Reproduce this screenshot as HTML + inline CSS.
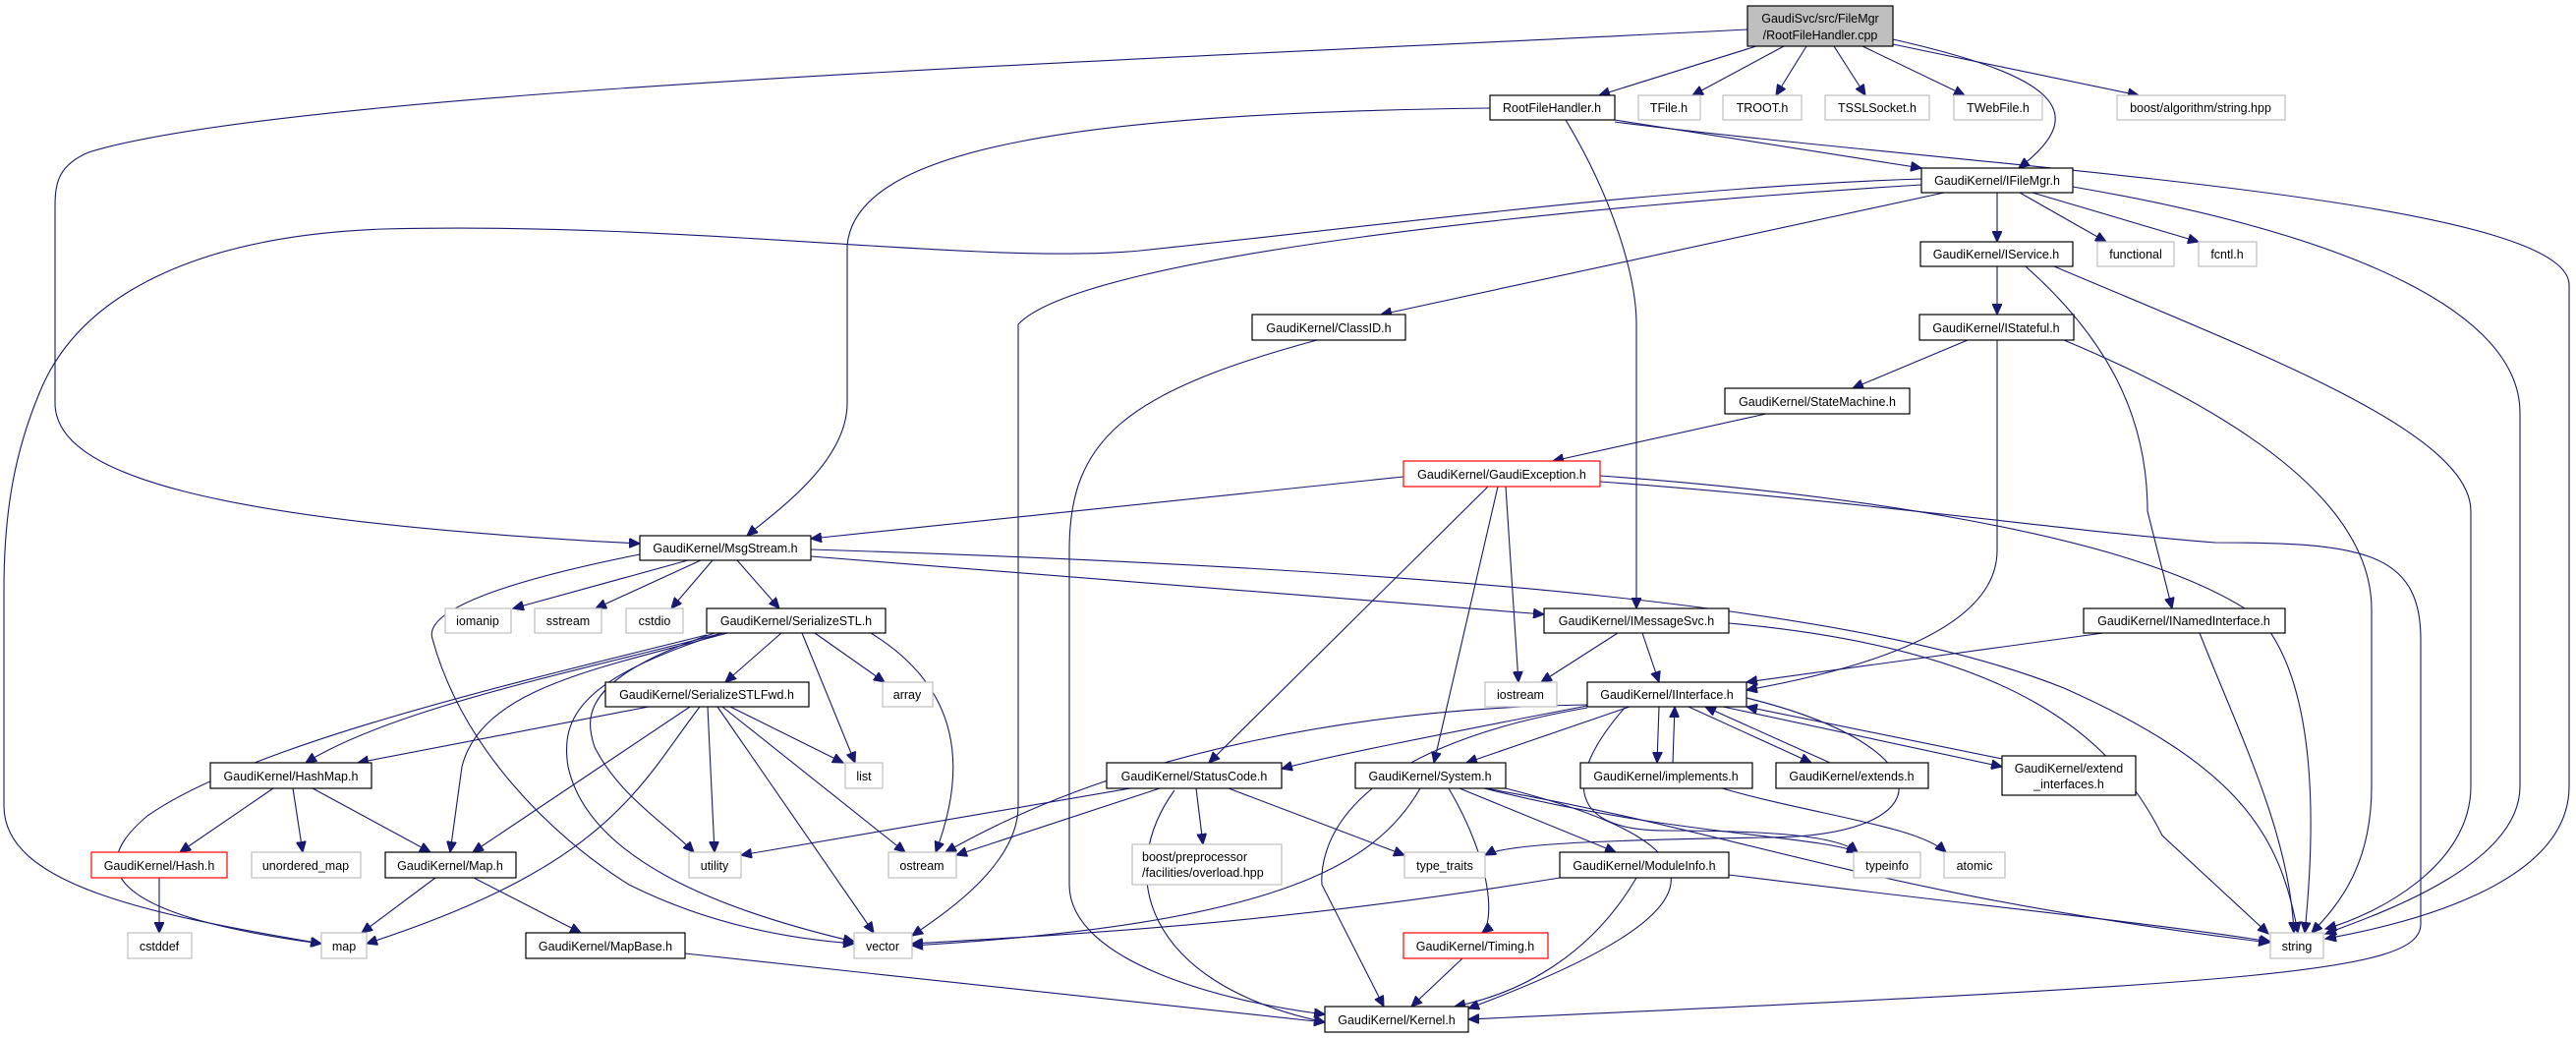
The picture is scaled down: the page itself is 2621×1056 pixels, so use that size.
<!DOCTYPE html>
<html><head><meta charset="utf-8"><style>
html,body{margin:0;padding:0;background:#fff}
svg{display:block}
text{font-family:"Liberation Sans",sans-serif;font-size:12.5px;fill:#000}
path{fill:none;stroke:#191970;stroke-width:1.1}
.b{fill:#fff;stroke:#000;stroke-width:1.2}
.g{fill:#fff;stroke:#bfbfbf;stroke-width:1.2}
.r{fill:#fff;stroke:#ff0000;stroke-width:1.2}
</style></head><body>
<svg width="2621" height="1056" viewBox="0 0 2621 1056" xmlns="http://www.w3.org/2000/svg">
<defs><marker id="a" markerUnits="userSpaceOnUse" markerWidth="12" markerHeight="10" refX="11" refY="5" orient="auto"><path d="M0,0 L11,5 L0,10 Z" style="fill:#191970;stroke:#191970"/></marker></defs>
<g marker-end="url(#a)">
<path d="M1787,47 L1627,97"/><path d="M1815,47 L1722,97"/><path d="M1838,47 L1807,97"/><path d="M1866,47 L1898,97"/><path d="M1895,47 L1999,97"/><path d="M1926,45 L2176,97"/>
<path d="M1926,40 C2080,75 2135,110 2054,171"/>
<path d="M1778,30 C1200,60 300,90 90,155 C60,168 56,185 56,210 L56,410 C56,480 200,530 651,553"/>
<path d="M1516,110 C1100,115 870,150 862,250 L862,410 C862,470 790,520 760,545"/>
<path d="M1593,122 C1640,200 1665,280 1665,330 L1665,619"/>
<path d="M1643,122 L1955,171"/>
<path d="M1643,124 C2000,170 2614,200 2614,290 L2614,800 C2614,900 2450,940 2366,955"/>
<path d="M2109,190 C2400,240 2564,320 2564,420 L2564,800 C2564,880 2420,930 2366,950"/>
<path d="M1955,182 C1700,190 1400,230 1160,255 C1000,270 700,225 390,233 C200,240 80,300 40,400 C15,460 4,520 4,600 L4,820 C4,900 150,930 327,960"/>
<path d="M1955,188 C1600,210 1100,260 1036,330 L1036,820 C1036,880 960,930 928,952"/>
<path d="M1978,196 L1405,320"/><path d="M2032,196 L2032,246"/><path d="M2055,196 L2143,246"/><path d="M2068,196 L2237,246"/>
<path d="M2032,271 L2032,320"/>
<path d="M2061,271 C2150,350 2185,430 2185,520 L2210,619"/>
<path d="M2090,271 C2300,360 2514,440 2514,520 L2514,800 C2514,880 2420,930 2366,945"/>
<path d="M2100,346 C2300,430 2413,520 2413,620 L2413,800 C2413,880 2380,920 2352,949"/>
<path d="M2002,346 L1885,395"/>
<path d="M2032,346 L2032,560 C2032,640 1900,680 1777,702"/>
<path d="M1797,421 L1580,469"/>
<path d="M1340,346 C1140,400 1088,450 1088,560 L1088,900 C1088,980 1250,1020 1348,1032"/>
<path d="M1428,485 L825,548"/>
<path d="M1514,495 L1230,776"/><path d="M1524,495 L1459,776"/><path d="M1532,495 L1545,694"/>
<path d="M1628,484 C1850,500 2180,540 2300,630 C2360,700 2355,850 2345,949"/>
<path d="M1628,490 C1900,510 2100,540 2254,552 C2400,552 2463,560 2463,650 L2463,940 C2463,990 2300,1000 1494,1037"/>
<path d="M700,570 L522,619"/><path d="M713,570 L606,619"/><path d="M725,570 L683,619"/><path d="M750,570 L793,619"/>
<path d="M825,566 L1571,625"/>
<path d="M825,559 C1500,580 1900,620 2100,700 C2280,780 2320,850 2338,949"/>
<path d="M651,564 C520,590 430,620 440,650 C470,760 560,850 640,900 C720,940 800,955 869,960"/>
<path d="M795,644 L738,694"/><path d="M829,644 L900,694"/><path d="M816,644 L870,776"/>
<path d="M886,644 C977,700 985,780 952,867"/>
<path d="M735,644 C600,680 400,720 311,776"/>
<path d="M740,644 C610,680 490,700 470,780 L458,867"/>
<path d="M719,646 C500,700 250,760 150,830 C90,880 100,930 327,960"/>
<path d="M727,644 C590,690 595,730 605,760 C630,810 680,840 706,867"/>
<path d="M735,644 C590,690 570,730 578,780 C600,880 750,930 869,958"/>
<path d="M660,719 L364,776"/><path d="M702,719 L481,867"/>
<path d="M712,719 C650,800 620,880 373,960"/>
<path d="M720,719 L727,867"/><path d="M743,719 L858,776"/><path d="M735,719 L921,867"/><path d="M730,719 L889,949"/>
<path d="M278,802 L183,867"/><path d="M298,802 L308,867"/><path d="M318,802 L438,867"/>
<path d="M162,893 L162,949"/><path d="M443,893 L368,949"/><path d="M482,893 L591,949"/>
<path d="M697,970 L1348,1040"/>
<path d="M1646,644 L1568,694"/><path d="M1671,644 L1688,694"/>
<path d="M1759,634 C2050,660 2150,750 2200,850 L2308,950"/>
<path d="M2140,644 L1777,694"/>
<path d="M2238,644 C2280,750 2330,850 2334,949"/>
<path d="M1658,719 L1492,776"/><path d="M1688,719 L1686,776"/><path d="M1702,776 L1704,719"/>
<path d="M1718,719 L1843,776"/><path d="M1862,776 L1735,719"/>
<path d="M1753,719 L2037,780"/><path d="M2037,772 L1777,719"/>
<path d="M1615,717 C1400,720 1150,760 962,867"/>
<path d="M1615,718 C1450,750 1350,770 1304,782"/>
<path d="M1777,710 C1980,760 1980,850 1800,852 C1600,855 1530,860 1511,870"/>
<path d="M1653,720 C1586,797 1600,845 1694,845 C1800,845 1870,850 1890,867"/>
<path d="M1615,720 C1360,764 1343,865 1345,900 L1408,1024"/>
<path d="M1752,802 C1850,830 1950,840 1980,867"/>
<path d="M1150,802 L754,870"/><path d="M1180,802 L973,870"/><path d="M1217,802 L1224,859"/><path d="M1250,802 L1429,870"/>
<path d="M1195,804 C1136,885 1160,1000 1348,1040"/>
<path d="M1445,802 C1400,880 1300,940 928,962"/>
<path d="M1587,893 C1300,940 1100,950 928,960"/>
<path d="M1474,802 C1520,880 1520,940 1508,949"/>
<path d="M1485,802 L1644,867"/>
<path d="M1510,802 C1700,850 1850,850 1890,867"/>
<path d="M1511,802 C1778,848 1895,908 2309,959"/>
<path d="M1532,802 C1778,865 1745,932 1494,1026"/>
<path d="M1759,890 C2000,920 2200,940 2310,958"/>
<path d="M1665,893 C1620,970 1550,1010 1480,1024"/>
<path d="M1488,975 L1436,1024"/>
</g>
<g>
<rect x="1778" y="6" width="148" height="41" style="fill:#bfbfbf;stroke:#000;stroke-width:1.2"/>
<text x="1852" y="23" text-anchor="middle">GaudiSvc/src/FileMgr</text><text x="1852" y="40" text-anchor="middle">/RootFileHandler.cpp</text>
</g>
<g text-anchor="middle">
<rect class="b" x="1516" y="97" width="127" height="25"/><text x="1579" y="114">RootFileHandler.h</text>
<rect class="g" x="1667" y="97" width="63" height="25"/><text x="1698" y="114">TFile.h</text>
<rect class="g" x="1753" y="97" width="80" height="25"/><text x="1793" y="114">TROOT.h</text>
<rect class="g" x="1857" y="97" width="106" height="25"/><text x="1910" y="114">TSSLSocket.h</text>
<rect class="g" x="1988" y="97" width="90" height="25"/><text x="2033" y="114">TWebFile.h</text>
<rect class="g" x="2154" y="97" width="171" height="25"/><text x="2239" y="114">boost/algorithm/string.hpp</text>
<rect class="b" x="1955" y="171" width="154" height="25"/><text x="2032" y="188">GaudiKernel/IFileMgr.h</text>
<rect class="b" x="1954" y="246" width="155" height="25"/><text x="2031" y="263">GaudiKernel/IService.h</text>
<rect class="g" x="2134" y="246" width="78" height="25"/><text x="2173" y="263">functional</text>
<rect class="g" x="2237" y="246" width="59" height="25"/><text x="2266" y="263">fcntl.h</text>
<rect class="b" x="1274" y="320" width="156" height="26"/><text x="1352" y="338">GaudiKernel/ClassID.h</text>
<rect class="b" x="1953" y="320" width="157" height="26"/><text x="2031" y="338">GaudiKernel/IStateful.h</text>
<rect class="b" x="1755" y="395" width="188" height="26"/><text x="1849" y="413">GaudiKernel/StateMachine.h</text>
<rect class="r" x="1428" y="469" width="200" height="26"/><text x="1528" y="487">GaudiKernel/GaudiException.h</text>
<rect class="b" x="651" y="545" width="174" height="25"/><text x="738" y="562">GaudiKernel/MsgStream.h</text>
<rect class="g" x="453" y="619" width="67" height="25"/><text x="486" y="636">iomanip</text>
<rect class="g" x="544" y="619" width="68" height="25"/><text x="578" y="636">sstream</text>
<rect class="g" x="637" y="619" width="58" height="25"/><text x="666" y="636">cstdio</text>
<rect class="b" x="719" y="619" width="182" height="25"/><text x="810" y="636">GaudiKernel/SerializeSTL.h</text>
<rect class="b" x="1571" y="619" width="188" height="25"/><text x="1665" y="636">GaudiKernel/IMessageSvc.h</text>
<rect class="b" x="2120" y="619" width="205" height="25"/><text x="2222" y="636">GaudiKernel/INamedInterface.h</text>
<rect class="b" x="616" y="694" width="207" height="25"/><text x="719" y="711">GaudiKernel/SerializeSTLFwd.h</text>
<rect class="g" x="898" y="694" width="51" height="25"/><text x="923" y="711">array</text>
<rect class="g" x="1511" y="694" width="73" height="25"/><text x="1547" y="711">iostream</text>
<rect class="b" x="1615" y="694" width="162" height="25"/><text x="1696" y="711">GaudiKernel/IInterface.h</text>
<rect class="b" x="214" y="776" width="164" height="26"/><text x="296" y="794">GaudiKernel/HashMap.h</text>
<rect class="g" x="860" y="776" width="38" height="26"/><text x="879" y="794">list</text>
<rect class="b" x="1126" y="776" width="178" height="26"/><text x="1215" y="794">GaudiKernel/StatusCode.h</text>
<rect class="b" x="1379" y="776" width="153" height="26"/><text x="1455" y="794">GaudiKernel/System.h</text>
<rect class="b" x="1608" y="776" width="175" height="26"/><text x="1695" y="794">GaudiKernel/implements.h</text>
<rect class="b" x="1807" y="776" width="155" height="26"/><text x="1884" y="794">GaudiKernel/extends.h</text>
<rect class="b" x="2037" y="769" width="136" height="40"/><text x="2105" y="786">GaudiKernel/extend</text><text x="2105" y="802">_interfaces.h</text>
<rect class="r" x="93" y="867" width="138" height="26"/><text x="162" y="885">GaudiKernel/Hash.h</text>
<rect class="g" x="256" y="867" width="111" height="26"/><text x="311" y="885">unordered_map</text>
<rect class="b" x="392" y="867" width="133" height="26"/><text x="458" y="885">GaudiKernel/Map.h</text>
<rect class="g" x="701" y="867" width="53" height="26"/><text x="727" y="885">utility</text>
<rect class="g" x="904" y="867" width="69" height="26"/><text x="938" y="885">ostream</text>
<rect class="g" x="1152" y="859" width="152" height="41"/><text x="1162" y="876" text-anchor="start">boost/preprocessor</text><text x="1162" y="892" text-anchor="start">/facilities/overload.hpp</text>
<rect class="g" x="1429" y="867" width="82" height="26"/><text x="1470" y="885">type_traits</text>
<rect class="b" x="1587" y="867" width="172" height="26"/><text x="1673" y="885">GaudiKernel/ModuleInfo.h</text>
<rect class="g" x="1886" y="867" width="68" height="26"/><text x="1920" y="885">typeinfo</text>
<rect class="g" x="1978" y="867" width="62" height="26"/><text x="2009" y="885">atomic</text>
<rect class="g" x="130" y="949" width="65" height="26"/><text x="162" y="967">cstddef</text>
<rect class="g" x="327" y="949" width="46" height="26"/><text x="350" y="967">map</text>
<rect class="b" x="535" y="949" width="162" height="26"/><text x="616" y="967">GaudiKernel/MapBase.h</text>
<rect class="g" x="869" y="949" width="59" height="26"/><text x="898" y="967">vector</text>
<rect class="r" x="1428" y="949" width="147" height="26"/><text x="1501" y="967">GaudiKernel/Timing.h</text>
<rect class="g" x="2310" y="949" width="54" height="26"/><text x="2337" y="967">string</text>
<rect class="b" x="1348" y="1024" width="146" height="26"/><text x="1421" y="1042">GaudiKernel/Kernel.h</text>
</g>
</svg>
</body></html>
